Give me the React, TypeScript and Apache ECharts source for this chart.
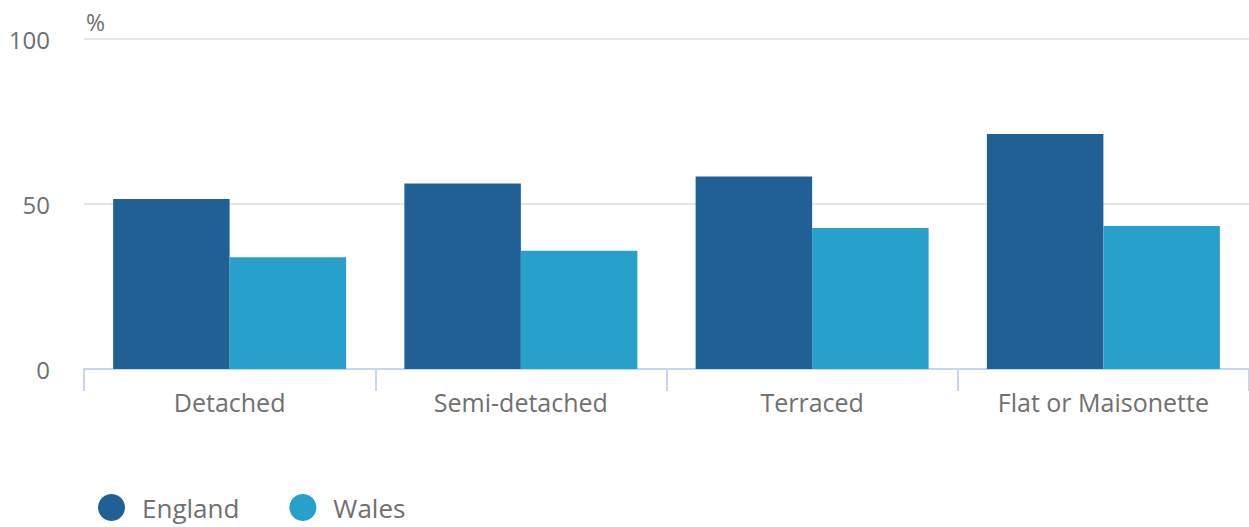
import React, { useEffect, useRef } from "react";
import * as echarts from "echarts";

const categories = ["Detached", "Semi-detached", "Terraced", "Flat or Maisonette"];
const englandValues = [51.5, 56.2, 58.3, 71.2];
const walesValues = [33.9, 35.8, 42.7, 43.3];
const yTicks = { min: 0, max: 100, interval: 50 };

const FONT = "'Open Sans', 'Noto Sans', sans-serif";
const TEXT = "#707070";

export default function App() {
  const ref = useRef<HTMLDivElement>(null);
  useEffect(() => {
    if (!ref.current) return;
    const chart = echarts.init(ref.current, undefined, { renderer: "svg" });
    chart.setOption({
      animation: false,
      textStyle: { fontFamily: FONT },
      grid: { left: 84, width: 1169, top: 39, bottom: 158 },
      legend: {
        left: 93,
        top: 489,
        icon: "circle",
        itemWidth: 27,
        itemHeight: 27,
        itemGap: 50,
        textStyle: { fontSize: 26, color: TEXT, fontFamily: FONT, padding: [0, 0, 0, 12] },
        data: ["England", "Wales"],
      },
      graphic: [
        {
          type: "text",
          left: 86,
          top: 10,
          style: { text: "%", fontSize: 23, fill: TEXT, fontFamily: FONT },
        },
      ],
      xAxis: {
        type: "category",
        data: categories,
        axisLine: { lineStyle: { color: "#c8d5ec", width: 2 } },
        axisTick: { show: true, length: 22, lineStyle: { color: "#c8d5ec", width: 2 } },
        axisLabel: { fontSize: 25, color: TEXT, fontFamily: FONT, margin: 20 },
      },
      yAxis: {
        type: "value",
        min: yTicks.min,
        max: yTicks.max,
        interval: yTicks.interval,
        axisLine: { show: false },
        axisTick: { show: false },
        axisLabel: { fontSize: 24, color: TEXT, fontFamily: FONT, margin: 34 },
        splitLine: { lineStyle: { color: "#e6e6e6", width: 2 } },
      },
      series: [
        {
          name: "England",
          type: "bar",
          data: englandValues,
          itemStyle: { color: "#206095" },
          barGap: "0%",
          barCategoryGap: "20%",
        },
        {
          name: "Wales",
          type: "bar",
          data: walesValues,
          itemStyle: { color: "#27a0cc" },
          barGap: "0%",
          barCategoryGap: "20%",
        },
      ],
    });
    return () => chart.dispose();
  }, []);
  return (
    <div
      ref={ref}
      style={{ position: "fixed", left: 0, top: 0, width: 1249, height: 527, background: "#fff" }}
    />
  );
}
